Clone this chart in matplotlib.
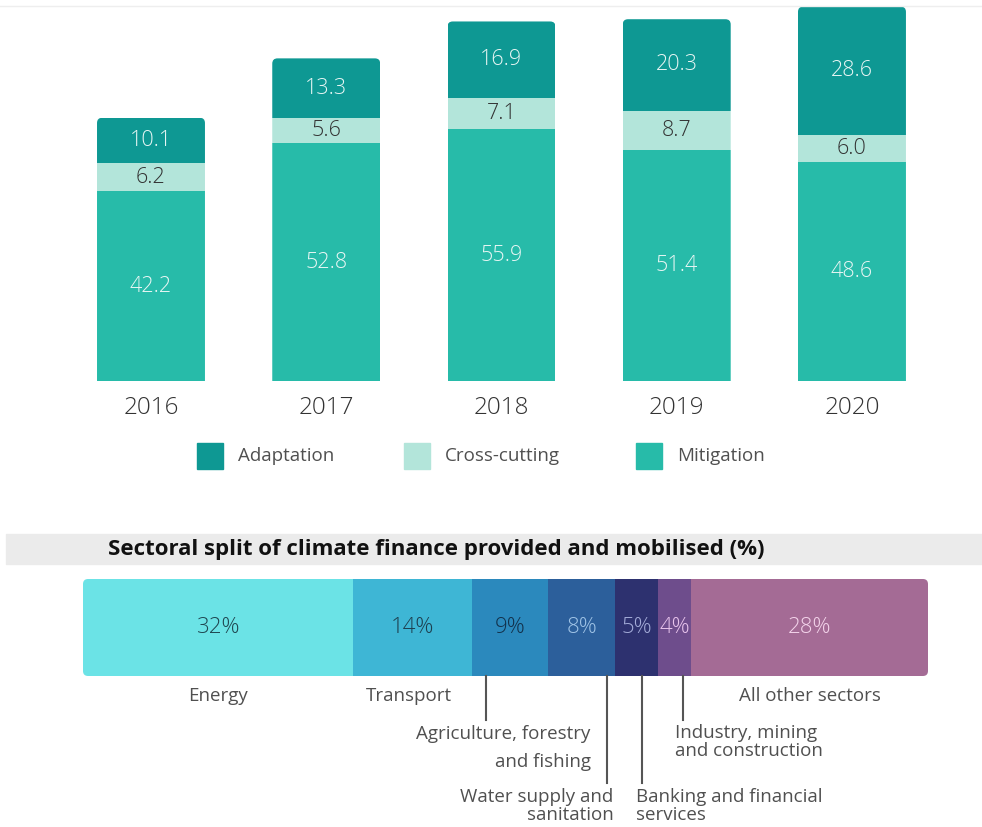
import matplotlib
matplotlib.use("Agg")
import matplotlib.pyplot as plt
from matplotlib.patches import Rectangle, FancyBboxPatch
import numpy as np

plt.rcParams['font.family'] = ['Open Sans', 'DejaVu Sans']

# --- data: climate finance by theme (USD bn) ---
years = ["2016", "2017", "2018", "2019", "2020"]
mitigation = [42.2, 52.8, 55.9, 51.4, 48.6]
cross_cutting = [6.2, 5.6, 7.1, 8.7, 6.0]
adaptation = [10.1, 13.3, 16.9, 20.3, 28.6]
themes = ["Adaptation", "Cross-cutting", "Mitigation"]

# --- data: sectoral split (%) ---
sectors = ["Energy", "Transport", "Agriculture, forestry\nand fishing",
           "Water supply and\nsanitation", "Banking and financial\nservices",
           "Industry, mining\nand construction", "All other sectors"]
shares = [32, 14, 9, 8, 5, 4, 28]

c_adapt = "#0e9893"
c_cross = "#b3e5da"
c_mitig = "#27bba9"
sector_colors = ["#6be3e6", "#3eb6d5", "#2b89bd", "#2c5f9b", "#2d316f", "#6e4d8c", "#a46b95"]
pct_colors = ["#1f4650", "#1d3f4f", "#12304a", "#9fc3e6", "#a3abd8", "#e8c4ec", "#f3d3ea"]

W, H = 982, 827
fig = plt.figure(figsize=(W / 100, H / 100), dpi=100)

# faint rule at the very top
fig.add_artist(plt.Line2D([0, 1], [0.993, 0.993], color="#eeeeee", lw=1))

# ---------------- top stacked columns ----------------
ax = fig.add_axes([0, 1 - 381 / H, 1, 381 / H])
x = np.arange(len(years))
w = 0.616
b1 = ax.bar(x, mitigation, w, color=c_mitig)
b2 = ax.bar(x, cross_cutting, w, bottom=mitigation, color=c_cross)
bot2 = np.array(mitigation) + np.array(cross_cutting)
b3 = ax.bar(x, adaptation, w, bottom=bot2, color=c_adapt)
ax.set_xlim(-0.8616, 4.742)
ax.set_ylim(0, 84.67)
ax.axis("off")

# round the top corners of each column (x unit = 175.25 px, y unit = 4.5 px)
aspect = 175.25 / 4.5
totals = bot2 + np.array(adaptation)
for i in range(len(years)):
    clip = FancyBboxPatch((x[i] - w / 2, -10), w, totals[i] + 10,
                          boxstyle="round,pad=0,rounding_size=0.03",
                          mutation_aspect=aspect, transform=ax.transData)
    for bars in (b1, b2, b3):
        bars[i].set_clip_path(clip)

lbl = dict(ha="center", va="center", fontsize=15.5, fontweight="light")
for i in range(len(years)):
    ax.text(x[i], mitigation[i] / 2, f"{mitigation[i]:.1f}", color="#e8f6f4", **lbl)
    ax.text(x[i], mitigation[i] + cross_cutting[i] / 2, f"{cross_cutting[i]:.1f}",
            color="#333333", **lbl)
    ax.text(x[i], bot2[i] + adaptation[i] / 2, f"{adaptation[i]:.1f}", color="#e8f6f4", **lbl)
    ax.text(x[i], -6, years[i], ha="center", va="center", fontsize=17.5,
            fontweight="light", color="#333333", clip_on=False)

# legend drawn by hand to match spacing
leg_x = [197, 404, 636]
for name, col, lx in zip(themes, [c_adapt, c_cross, c_mitig], leg_x):
    fig.add_artist(Rectangle((lx / W, 1 - 469 / H), 26 / W, 26 / H,
                             transform=fig.transFigure, color=col))
    fig.text((lx + 41) / W, 1 - 456 / H, name, fontsize=13.5,
             color="#505050", ha="left", va="center")

# ---------------- title band ----------------
fig.add_artist(Rectangle((6 / W, 1 - 564 / H), 1, 30 / H,
                         transform=fig.transFigure, color="#ebebeb", zorder=0))
fig.text(108 / W, 1 - 550 / H, "Sectoral split of climate finance provided and mobilised (%)",
         fontsize=16, fontweight="bold", color="#111111", ha="left", va="center")

# ---------------- sector bar ----------------
bx = fig.add_axes([83 / W, 1 - 676 / H, 845 / W, 97 / H])
left = np.concatenate([[0], np.cumsum(shares)[:-1]])
sb = bx.barh(0.5, shares, height=1, left=left, color=sector_colors)
bx.set_xlim(0, 100)
bx.set_ylim(0, 1)
bx.axis("off")
bclip = FancyBboxPatch((0, 0), 100, 1, boxstyle="round,pad=0,rounding_size=0.6",
                       mutation_aspect=8.45 / 97, transform=bx.transData)
for p in sb:
    p.set_clip_path(bclip)

for i in range(len(shares)):
    bx.text(left[i] + shares[i] / 2, 0.5, f"{shares[i]}%", ha="center", va="center",
            fontsize=16, fontweight="light", color=pct_colors[i])

def py(p):
    # pixel row -> bar axes y
    return (676 - p) / 97

lab = dict(fontsize=13.5, color="#505050", va="center", clip_on=False)
bx.text(left[0] + shares[0] / 2, py(696), sectors[0], ha="center", **lab)
bx.text(left[1] + shares[1] / 2 - 0.4, py(696), sectors[1], ha="center", **lab)
bx.text(left[6] + shares[6] / 2, py(696), sectors[6], ha="center", **lab)

# leader lines + multi-line labels
leaders = [(47.66, py(720)), (61.98, py(783)), (66.1, py(783)), (71.0, py(720))]
for lx, ly in leaders:
    bx.plot([lx, lx], [0, ly], color="#555555", lw=1.5, clip_on=False)

a1, a2 = sectors[2].split("\n")
bx.text(60.1, py(734), a1, ha="right", **lab)
bx.text(60.1, py(762), a2, ha="right", **lab)
w1, w2 = sectors[3].split("\n")
bx.text(62.8, py(797), w1, ha="right", **lab)
bx.text(62.8, py(815), w2, ha="right", **lab)
k1, k2 = sectors[4].split("\n")
bx.text(65.4, py(797), k1, ha="left", **lab)
bx.text(65.4, py(815), k2, ha="left", **lab)
n1, n2 = sectors[5].split("\n")
bx.text(70.1, py(733), n1, ha="left", **lab)
bx.text(70.1, py(751), n2, ha="left", **lab)

fig.savefig("out.png", dpi=100, facecolor="white")
